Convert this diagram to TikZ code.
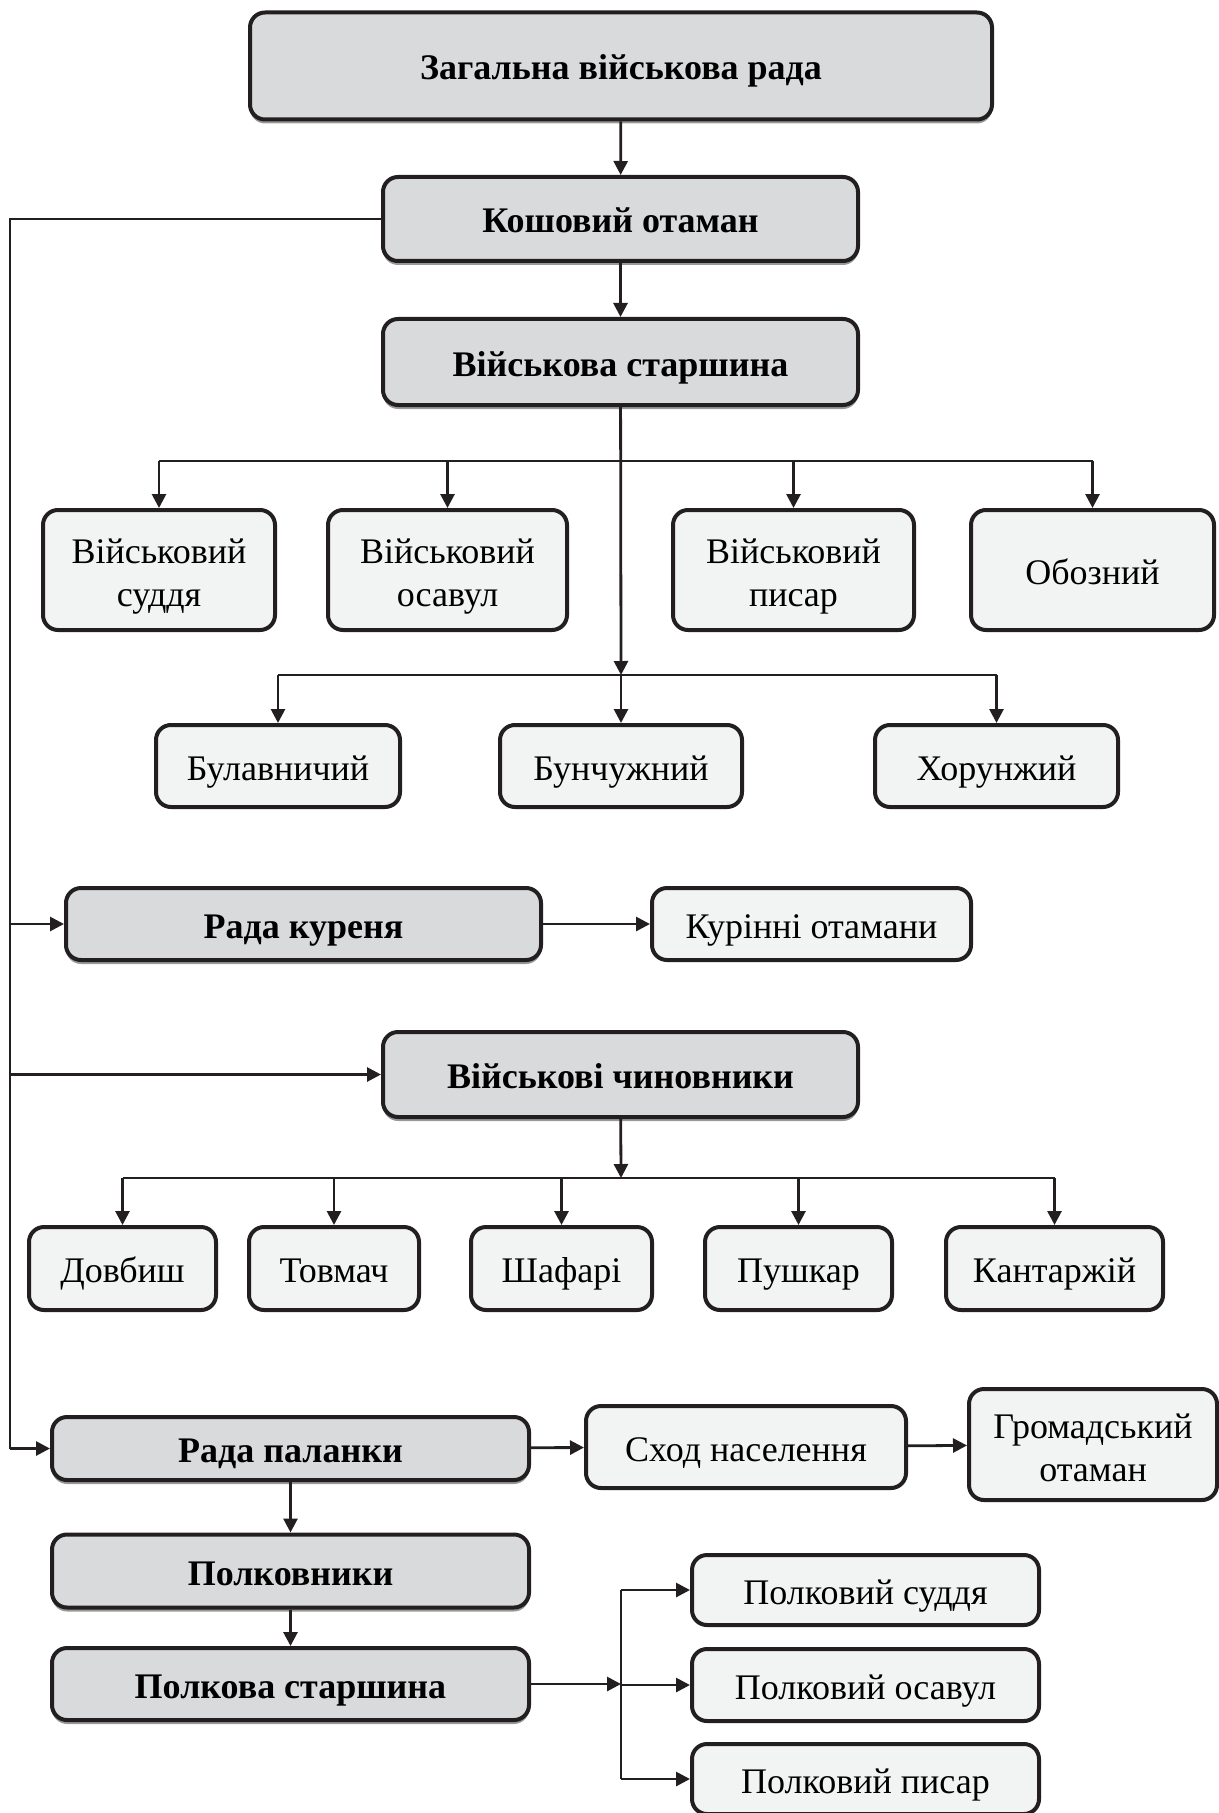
\documentclass[tikz,border=0pt]{standalone}
\usepackage{fontspec}
\setmainfont{Liberation Serif}
\usetikzlibrary{shapes,arrows.meta,positioning,calc,shadows}

\definecolor{boxgrey}{HTML}{D9DADC}
\definecolor{boxlight}{HTML}{F2F3F3}
\definecolor{edge}{HTML}{231F20}
\newcommand{\lstrut}{\rule[-4pt]{0pt}{22pt}}

\begin{document}
\begin{tikzpicture}[
        x=0.5pt, y=-0.5pt,
        main/.style={rectangle, rounded corners=7.5pt, draw=edge, line width=2pt, fill=boxgrey, align=center, inner sep=2pt, font=\fontsize{18}{21.5}\selectfont\bfseries, execute at begin node=\lstrut, execute at end node=\lstrut, drop shadow={shadow xshift=0pt, shadow yshift=-2pt, fill=black!40, opacity=1}},
        sub/.style={rectangle, rounded corners=7.5pt, draw=edge, line width=2pt, fill=boxlight, align=center, inner sep=2pt, font=\fontsize{18}{21.5}\selectfont, execute at begin node=\lstrut, execute at end node=\lstrut},
        pair/.style={execute at begin node=\rule{0pt}{40.5pt}, inner ysep=0pt},
        arrow/.style={-{Triangle[length=7pt, width=7pt]}, line width=1.4pt, draw=edge},
        bus/.style={line width=1.4pt, draw=edge}
    ]
    \useasboundingbox (0,0) rectangle (1219,1813);

    % Main column
    \node[main, minimum width=371pt, minimum height=53.5pt] (rada) at (621,66) {Загальна військова рада};
    \node[main, minimum width=237.5pt, minimum height=42pt] (kosh) at (620.5,219) {Кошовий отаман};
    \node[main, minimum width=237.5pt, minimum height=43pt] (starsh) at (620.5,362) {Військова старшина};

    % Army officers
    \node[sub, pair, minimum width=116pt, minimum height=60pt] (sudd) at (159,570) {Військовий\\суддя};
    \node[sub, pair, minimum width=119.5pt, minimum height=60pt] (osav) at (447.5,570) {Військовий\\осавул};
    \node[sub, pair, minimum width=120.5pt, minimum height=60pt] (pysar) at (793.5,570) {Військовий\\писар};
    \node[sub, minimum width=121.5pt, minimum height=60pt] (oboz) at (1092.5,570) {Обозний};
    \node[sub, minimum width=122pt, minimum height=41pt] (bulav) at (278,766) {Булавничий};
    \node[sub, minimum width=121pt, minimum height=41pt] (bunch) at (621,766) {Бунчужний};
    \node[sub, minimum width=121.5pt, minimum height=41pt] (khor) at (996.5,766) {Хорунжий};

    % Kurin
    \node[main, minimum width=237.5pt, minimum height=36pt] (kurin) at (303.5,924) {Рада куреня};
    \node[sub, minimum width=159.5pt, minimum height=36pt] (kurotam) at (811.5,924) {Курінні отамани};

    % Officials
    \node[main, minimum width=237.5pt, minimum height=42.5pt] (chyn) at (620.5,1074.5) {Військові чиновники};
    \node[sub, minimum width=93.5pt, minimum height=41.5pt] (dovb) at (122.5,1268.5) {Довбиш};
    \node[sub, minimum width=85pt, minimum height=41.5pt] (tovm) at (334,1268.5) {Товмач};
    \node[sub, minimum width=90.5pt, minimum height=41.5pt] (shaf) at (561.5,1268.5) {Шафарі};
    \node[sub, minimum width=93.5pt, minimum height=41.5pt] (push) at (798.5,1268.5) {Пушкар};
    \node[sub, minimum width=108.5pt, minimum height=41.5pt] (kant) at (1054.5,1268.5) {Кантаржій};

    % Palanka
    \node[main, minimum width=238.5pt, minimum height=31.5pt] (palan) at (290.5,1448.5) {Рада паланки};
    \node[sub, minimum width=160pt, minimum height=41pt] (skhod) at (746,1447) {Сход населення};
    \node[sub, pair, minimum width=124pt, minimum height=55.5pt] (hromad) at (1093,1444.5) {Громадський\\отаман};
    \node[main, minimum width=238.5pt, minimum height=36.5pt] (polk) at (290.5,1571) {Полковники};
    \node[main, minimum width=238.5pt, minimum height=36pt] (polkst) at (290.5,1684) {Полкова старшина};
    \node[sub, minimum width=173.5pt, minimum height=35pt] (psud) at (865.5,1590) {Полковий суддя};
    \node[sub, minimum width=173.5pt, minimum height=36pt] (posav) at (865.5,1685) {Полковий осавул};
    \node[sub, minimum width=173.5pt, minimum height=35pt] (ppys) at (865.5,1779) {Полковий писар};

    % Junctions
    \coordinate (j1) at (621,461);
    \coordinate (j2) at (621,675);
    \coordinate (j3) at (621,1178);
    \coordinate (j4) at (621,1684);
    \coordinate (lx) at (10,219);

    % Arrows
    \draw[arrow] (rada) -- (kosh);
    \draw[arrow] (kosh) -- (starsh);
    \draw[arrow] (starsh) -- (j2);
    \draw[bus] (sudd.north |- j1) -- (oboz.north |- j1);
    \foreach \n in {sudd,osav,pysar,oboz}
        \draw[arrow] (\n.north |- j1) -- (\n.north);
    \draw[bus] (bulav.north |- j2) -- (khor.north |- j2);
    \foreach \n in {bulav,bunch,khor}
        \draw[arrow] (\n.north |- j2) -- (\n.north);

    \draw[bus] (kosh.west) -- (lx) -- (lx |- palan.west);
    \draw[arrow] (lx |- kurin.west) -- (kurin.west);
    \draw[arrow] (lx |- chyn.west) -- (chyn.west);
    \draw[arrow] (lx |- palan.west) -- (palan.west);
    \draw[arrow] (kurin) -- (kurotam);

    \draw[arrow] (chyn) -- (j3);
    \draw[bus] (dovb.north |- j3) -- (kant.north |- j3);
    \foreach \n in {dovb,tovm,shaf,push,kant}
        \draw[arrow] (\n.north |- j3) -- (\n.north);

    \draw[arrow] (palan) -- (skhod);
    \draw[arrow] (skhod) -- (hromad);
    \draw[arrow] (palan) -- (polk);
    \draw[arrow] (polk) -- (polkst);
    \draw[arrow] (polkst.east) -- (j4);
    \draw[bus] (j4 |- psud.west) -- (j4 |- ppys.west);
    \foreach \n in {psud,posav,ppys}
        \draw[arrow] (j4 |- \n.west) -- (\n.west);

\end{tikzpicture}
\end{document}
